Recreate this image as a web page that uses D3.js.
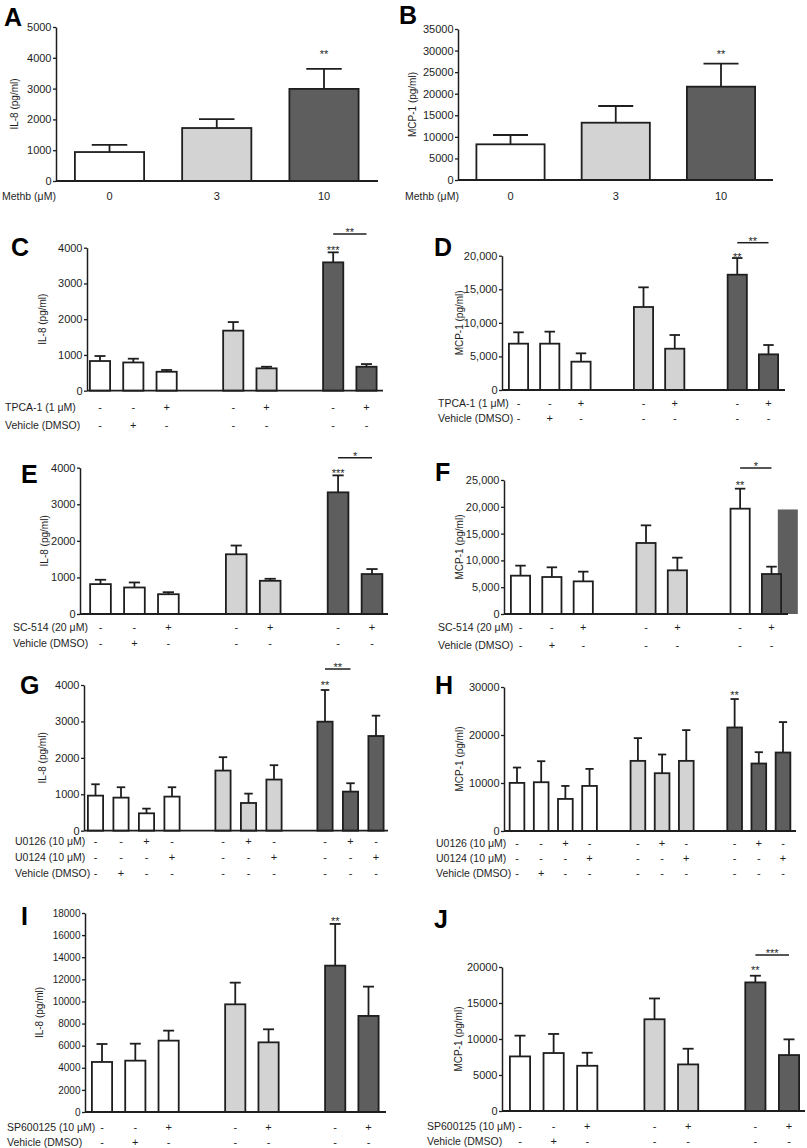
<!DOCTYPE html>
<html><head><meta charset="utf-8">
<script src="https://cdn.jsdelivr.net/npm/d3@7"></script>
<style>html,body{margin:0;padding:0;background:#fff}svg{display:block}</style>
</head><body>
<script>
// ---------------- DATA ----------------
const A_doses = [0, 3, 10];
const A_tickLabels = ["0", "3", "10"];
const A_means = [940, 1720, 2990];
const A_upper = [1170, 2010, 3640];

const B_doses = [0, 3, 10];
const B_tickLabels = ["0", "3", "10"];
const B_means = [8270, 13280, 21630];
const B_upper = [10430, 17150, 26960];

const C_doses = [0, 0, 0, 3, 3, 10, 10];
const C_means = [830, 790, 530, 1680, 625, 3590, 670];
const C_upper = [970, 895, 580, 1920, 670, 3870, 745];
const C_rowTPCA = ["-", "-", "+", "-", "+", "-", "+"];
const C_rowVehicle = ["-", "+", "-", "-", "-", "-", "-"];

const D_doses = [0, 0, 0, 3, 3, 10, 10];
const D_means = [6900, 6900, 4220, 12360, 6150, 17170, 5310];
const D_upper = [8590, 8690, 5460, 15290, 8190, 19650, 6700];
const D_rowTPCA = ["-", "-", "+", "-", "+", "-", "+"];
const D_rowVehicle = ["-", "+", "-", "-", "-", "-", "-"];

const E_doses = [0, 0, 0, 3, 3, 10, 10];
const E_means = [817, 725, 541, 1633, 908, 3326, 1092];
const E_upper = [936, 862, 596, 1872, 963, 3790, 1229];
const E_rowSC = ["-", "-", "+", "-", "+", "-", "+"];
const E_rowVehicle = ["-", "+", "-", "-", "-", "-", "-"];

const F_doses = [0, 0, 0, 3, 3, 10, 10];
const F_means = [7150, 6900, 6090, 13250, 8150, 19650, 7460];
const F_upper = [9020, 8710, 7900, 16540, 10510, 23380, 8830];
const F_artifact = [19500];
const F_rowSC = ["-", "-", "+", "-", "+", "-", "+"];
const F_rowVehicle = ["-", "+", "-", "-", "-", "-", "-"];

const G_doses = [0, 0, 0, 0, 3, 3, 3, 10, 10, 10];
const G_means = [963, 908, 477, 936, 1651, 761, 1404, 2993, 1073, 2600];
const G_upper = [1275, 1193, 606, 1193, 2018, 1018, 1798, 3863, 1303, 3158];
const G_rowU0126 = ["-", "-", "+", "-", "-", "+", "-", "-", "+", "-"];
const G_rowU0124 = ["-", "-", "-", "+", "-", "-", "+", "-", "-", "+"];
const G_rowVehicle = ["-", "+", "-", "-", "-", "-", "-", "-", "-", "-"];

const H_doses = [0, 0, 0, 0, 3, 3, 3, 10, 10, 10];
const H_means = [10020, 10160, 6680, 9390, 14610, 12040, 14610, 21570, 14060, 16350];
const H_upper = [13220, 14540, 9390, 12940, 19350, 15940, 21020, 27490, 16420, 22690];
const H_rowU0126 = ["-", "-", "+", "-", "-", "+", "-", "-", "+", "-"];
const H_rowU0124 = ["-", "-", "-", "+", "-", "-", "+", "-", "-", "+"];
const H_rowVehicle = ["-", "+", "-", "-", "-", "-", "-", "-", "-", "-"];

const I_doses = [0, 0, 0, 3, 3, 10, 10];
const I_means = [4525, 4645, 6455, 9740, 6300, 13240, 8690];
const I_upper = [6150, 6180, 7360, 11700, 7480, 17010, 11340];
const I_rowSP = ["-", "-", "+", "-", "+", "-", "+"];
const I_rowVehicle = ["-", "+", "-", "-", "-", "-", "-"];

const J_doses = [0, 0, 0, 3, 3, 10, 10];
const J_means = [7580, 8050, 6280, 12740, 6470, 17860, 7770];
const J_upper = [10465, 10700, 8090, 15630, 8650, 18790, 9950];
const J_rowSP = ["-", "-", "+", "-", "+", "-", "+"];
const J_rowVehicle = ["-", "+", "-", "-", "-", "-", "-"];

// ---------------- RENDER ----------------
const W = 807, H = 1148;
const FONT = "'Liberation Sans', Arial, Helvetica, sans-serif";
const INK = "#1e1e1e";
const svg = d3.select("body").append("svg").attr("width", W).attr("height", H)
  .attr("viewBox", `0 0 ${W} ${H}`).style("font-family", FONT);
svg.append("rect").attr("width", W).attr("height", H).attr("fill", "#fff");

const fillScale = d3.scaleOrdinal().domain([0, 3, 10]).range(["#ffffff", "#d3d3d3", "#5e5e5e"]);

function slotsFromDoses(doses, gap) {
  const s = []; let k = 0;
  doses.forEach((d, i) => { if (i > 0 && d !== doses[i - 1] && gap) k++; s.push(k); k++; });
  return s;
}

function panel(cfg) {
  const g = svg.append("g");
  const y = d3.scaleLinear().domain([0, cfg.max]).range([cfg.y0, cfg.yTop]);
  const slots = slotsFromDoses(cfg.doses, cfg.gap);
  const nSlots = slots[slots.length - 1];
  const x = d3.scaleLinear().domain([0, nSlots]).range([cfg.c0, cfg.c1]);
  const bw = cfg.bw;

  if (cfg.artifact) {
    g.append("rect").attr("x", x(cfg.artifact.slot) - cfg.artifact.w / 2)
      .attr("y", y(cfg.artifact.value)).attr("width", cfg.artifact.w)
      .attr("height", cfg.y0 - y(cfg.artifact.value)).attr("fill", "#5e5e5e");
  }

  const data = cfg.means.map((m, i) => ({ m, u: cfg.upper[i], s: slots[i], d: cfg.doses[i], i }));
  data.forEach(d => {
    const cx = x(d.s);
    g.append("line").attr("x1", cx).attr("x2", cx).attr("y1", y(d.m)).attr("y2", y(d.u))
      .attr("stroke", INK).attr("stroke-width", 1.8);
    g.append("line").attr("x1", cx - bw / 4).attr("x2", cx + bw / 4).attr("y1", y(d.u)).attr("y2", y(d.u))
      .attr("stroke", INK).attr("stroke-width", 1.8);
  });
  g.selectAll("rect.bar").data(data).join("rect").attr("class", "bar")
    .attr("x", d => x(d.s) - bw / 2 + 0.9).attr("y", d => y(d.m))
    .attr("width", bw - 1.8).attr("height", d => cfg.y0 - y(d.m))
    .attr("fill", d => (cfg.fillOverride && cfg.fillOverride[d.i]) || fillScale(d.d))
    .attr("stroke", INK).attr("stroke-width", 1.8);

  const ax = g.append("g").attr("transform", `translate(${cfg.ax},0)`)
    .call(d3.axisLeft(y).tickValues(cfg.ticks).tickFormat(cfg.fmt).tickSize(3).tickPadding(1.5).tickSizeOuter(0));
  ax.select(".domain").attr("stroke", INK).attr("stroke-width", 1.5);
  ax.selectAll(".tick line").attr("stroke", INK).attr("stroke-width", 1.3);
  ax.selectAll(".tick text").attr("fill", INK).style("font-size", (cfg.tickFs || 11) + "px").style("font-family", FONT);
  g.append("line").attr("x1", cfg.ax).attr("x2", cfg.right).attr("y1", cfg.y0).attr("y2", cfg.y0)
    .attr("stroke", INK).attr("stroke-width", 1.8);

  g.append("text").attr("transform", `translate(${cfg.titleX},${(cfg.y0 + cfg.yTop) / 2}) rotate(-90)`)
    .attr("text-anchor", "middle").attr("dominant-baseline", "middle")
    .style("font-size", "10px").attr("fill", INK).text(cfg.title);

  g.append("text").attr("x", cfg.letter[0]).attr("y", cfg.letter[1]).text(cfg.letter[2])
    .style("font-size", "25px").style("font-weight", "bold").attr("fill", "#000");

  (cfg.stars || []).forEach(s => {
    const i = s.bar;
    g.append("text").attr("x", x(slots[i])).attr("y", y(cfg.upper[i]) - s.dy + 6)
      .attr("text-anchor", "middle").style("font-size", "11px").attr("fill", INK).text(s.text);
  });
  if (cfg.bracket) {
    const b = cfg.bracket;
    g.append("line").attr("x1", x(slots[b.from])).attr("x2", x(slots[b.to])).attr("y1", b.y).attr("y2", b.y)
      .attr("stroke", INK).attr("stroke-width", 1.5);
    g.append("text").attr("x", (x(slots[b.from]) + x(slots[b.to])) / 2).attr("y", b.y - 4 + 6)
      .attr("text-anchor", "middle").style("font-size", "11px").attr("fill", INK).text(b.text);
  }

  (cfg.rows || []).forEach(r => {
    g.append("text").attr("x", cfg.rowX).attr("y", r.y + 4).style("font-size", "10.5px").attr("fill", INK).text(r.label);
    r.signs.forEach((s, i) => {
      g.append("text").attr("x", x(slots[i])).attr("y", r.y + 4).attr("text-anchor", "middle")
        .style("font-size", "11px").attr("fill", INK).text(s);
    });
  });
}

const r5k = (m, st) => d3.range(0, m + 1, st);

panel({ doses: A_doses, means: A_means, upper: A_upper, gap: false, max: 5000, ticks: r5k(5000, 1000), fmt: d3.format("d"),
  ax: 56, right: 378, y0: 181, yTop: 27, c0: 109.5, c1: 324, bw: 71, title: "IL-8 (pg/ml)", titleX: 15,
  letter: [4, 26, "A"], stars: [{ bar: 2, text: "**", dy: 17 }], rowX: 2,
  rows: [{ label: "Methb (μM)", y: 196, signs: A_tickLabels }] });

panel({ doses: B_doses, means: B_means, upper: B_upper, gap: false, max: 35000, ticks: r5k(35000, 5000), fmt: d3.format("d"),
  ax: 458, right: 773, y0: 180, yTop: 29, c0: 510.5, c1: 721, bw: 70, title: "MCP-1 (pg/ml)", titleX: 413,
  letter: [399, 24, "B"], stars: [{ bar: 2, text: "**", dy: 12 }], rowX: 405,
  rows: [{ label: "Methb (μM)", y: 196, signs: B_tickLabels }] });

panel({ doses: C_doses, means: C_means, upper: C_upper, gap: true, max: 4000, ticks: r5k(4000, 1000), fmt: d3.format("d"),
  ax: 87, right: 383, y0: 390.7, yTop: 247.7, c0: 100, c1: 366.5, bw: 22, title: "IL-8 (pg/ml)", titleX: 43,
  letter: [11, 256, "C"], stars: [{ bar: 5, text: "***", dy: 4 }], bracket: { from: 5, to: 6, y: 234, text: "**" }, rowX: 5,
  rows: [{ label: "TPCA-1 (1 μM)", y: 407, signs: C_rowTPCA }, { label: "Vehicle (DMSO)", y: 425, signs: C_rowVehicle }] });

panel({ doses: D_doses, means: D_means, upper: D_upper, gap: true, max: 20000, ticks: r5k(20000, 5000), fmt: d3.format(","),
  ax: 502, right: 785, y0: 390, yTop: 255.7, c0: 518.5, c1: 768.5, bw: 21, title: "MCP-1 (pg/ml)", titleX: 460,
  letter: [434, 256, "D"], stars: [{ bar: 5, text: "**", dy: 3 }], bracket: { from: 5, to: 6, y: 242.7, text: "**" }, rowX: 438,
  rows: [{ label: "TPCA-1 (1 μM)", y: 403, signs: D_rowTPCA }, { label: "Vehicle (DMSO)", y: 418, signs: D_rowVehicle }] });

panel({ doses: E_doses, means: E_means, upper: E_upper, gap: true, max: 4000, ticks: r5k(4000, 1000), fmt: d3.format("d"),
  ax: 80, right: 388, y0: 614, yTop: 467.7, c0: 100.5, c1: 372, bw: 22.5, title: "IL-8 (pg/ml)", titleX: 45,
  letter: [21, 483, "E"], stars: [{ bar: 5, text: "***", dy: 4 }], bracket: { from: 5, to: 6, y: 457.7, text: "*" }, rowX: 13,
  rows: [{ label: "SC-514 (20 μM)", y: 627, signs: E_rowSC }, { label: "Vehicle (DMSO)", y: 643, signs: E_rowVehicle }] });

panel({ doses: F_doses, means: F_means, upper: F_upper, gap: true, max: 25000, ticks: r5k(25000, 5000), fmt: d3.format(","),
  ax: 504, right: 788, y0: 614, yTop: 480, c0: 520.5, c1: 771.5, bw: 21, title: "MCP-1 (pg/ml)", titleX: 460,
  letter: [435, 481, "F"], stars: [{ bar: 5, text: "**", dy: 6 }], bracket: { from: 5, to: 6, y: 468, text: "*" }, rowX: 438,
  fillOverride: { 5: "#ffffff" }, artifact: { slot: 8.52, w: 20, value: F_artifact[0] },
  rows: [{ label: "SC-514 (20 μM)", y: 627, signs: F_rowSC }, { label: "Vehicle (DMSO)", y: 645, signs: F_rowVehicle }] });

panel({ doses: G_doses, means: G_means, upper: G_upper, gap: true, max: 4000, ticks: r5k(4000, 1000), fmt: d3.format("d"),
  ax: 84, right: 388, y0: 830.7, yTop: 685, c0: 95.5, c1: 376, bw: 17, title: "IL-8 (pg/ml)", titleX: 43,
  letter: [20, 694, "G"], stars: [{ bar: 7, text: "**", dy: 7 }], bracket: { from: 7, to: 8, y: 669, text: "**" }, rowX: 15,
  rows: [{ label: "U0126 (10 μM)", y: 841, signs: G_rowU0126 }, { label: "U0124 (10 μM)", y: 857, signs: G_rowU0124 },
         { label: "Vehicle (DMSO)", y: 873, signs: G_rowVehicle }] });

panel({ doses: H_doses, means: H_means, upper: H_upper, gap: true, max: 30000, ticks: r5k(30000, 10000), fmt: d3.format("d"),
  ax: 504, right: 796, y0: 831, yTop: 687, c0: 517, c1: 783, bw: 16.5, title: "MCP-1 (pg/ml)", titleX: 460,
  letter: [435, 694, "H"], stars: [{ bar: 7, text: "**", dy: 6 }], rowX: 436,
  rows: [{ label: "U0126 (10 μM)", y: 843, signs: H_rowU0126 }, { label: "U0124 (10 μM)", y: 858, signs: H_rowU0124 },
         { label: "Vehicle (DMSO)", y: 873, signs: H_rowVehicle }] });

panel({ doses: I_doses, means: I_means, upper: I_upper, gap: true, max: 18000, ticks: r5k(18000, 2000), fmt: d3.format("d"), tickFs: 10,
  ax: 85, right: 386, y0: 1112, yTop: 913, c0: 102, c1: 368.5, bw: 22, title: "IL-8 (pg/ml)", titleX: 40,
  letter: [21, 925, "I"], stars: [{ bar: 5, text: "**", dy: 5 }], rowX: 7,
  rows: [{ label: "SP600125 (10 μM)", y: 1127, signs: I_rowSP }, { label: "Vehicle (DMSO)", y: 1142, signs: I_rowVehicle }] });

panel({ doses: J_doses, means: J_means, upper: J_upper, gap: true, max: 20000, ticks: r5k(20000, 5000), fmt: d3.format("d"),
  ax: 502, right: 805, y0: 1111, yTop: 967, c0: 520, c1: 789, bw: 22, title: "MCP-1 (pg/ml)", titleX: 459,
  letter: [434, 928, "J"], stars: [{ bar: 5, text: "**", dy: 8 }], bracket: { from: 5, to: 6, y: 955, text: "***" }, rowX: 427,
  rows: [{ label: "SP600125 (10 μM)", y: 1126, signs: J_rowSP }, { label: "Vehicle (DMSO)", y: 1141, signs: J_rowVehicle }] });
</script>
</body></html>
